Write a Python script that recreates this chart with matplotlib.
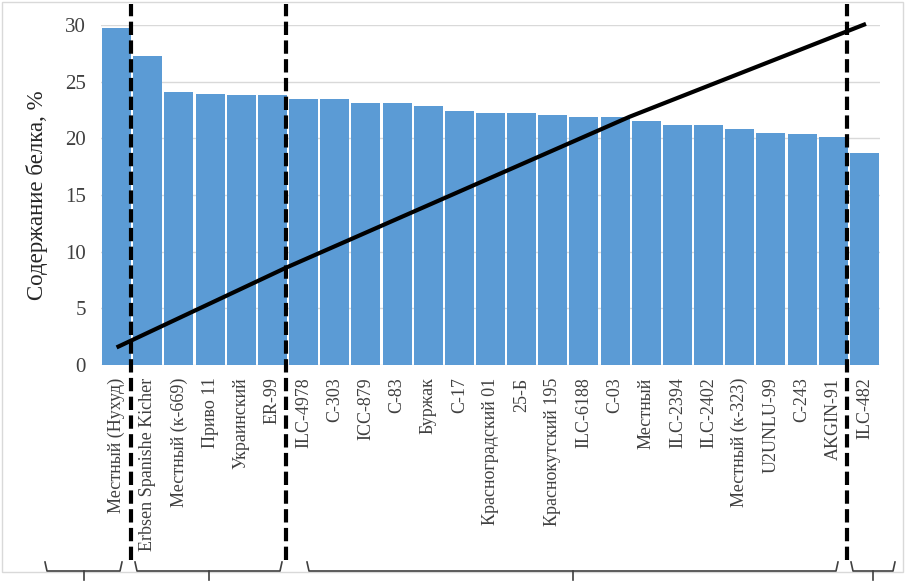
import matplotlib
matplotlib.use("Agg")
import matplotlib.pyplot as plt
from matplotlib.patches import Rectangle
from matplotlib.lines import Line2D

categories = ["Местный (Нухуд)", "Erbsen Spanishe Kicher", "Местный (к-669)", "Приво 11",
              "Украинский", "ER-99", "ILC-4978", "С-303", "ICC-879", "С-83", "Буржак",
              "С-17", "Красноградский 01", "25-Б", "Краснокутский 195", "ILC-6188",
              "С-03", "Местный", "ILC-2394", "ILC-2402", "Местный (к-323)", "U2UNLU-99",
              "С-243", "AKGIN-91", "ILC-482"]
protein = [29.7, 27.3, 24.1, 23.95, 23.85, 23.85, 23.45, 23.45, 23.15, 23.15, 22.85,
           22.45, 22.2, 22.2, 22.05, 21.9, 21.9, 21.5, 21.2, 21.2, 20.8, 20.5,
           20.4, 20.1, 18.75]
trend_x = [0, 5.45, 16.46, 24.05]
trend_y = [1.55, 8.6, 21.9, 30.1]
group_bounds = [0.45, 5.45, 23.43]
y_ticks = [0, 5, 10, 15, 20, 25, 30]

W, H = 907, 586
fig = plt.figure(figsize=(W / 100, H / 100), dpi=100)
plt.rcParams['font.family'] = ['Liberation Serif', 'DejaVu Serif']

L, R, T, B = 101, 880, 25, 365
ax = fig.add_axes([L / W, 1 - B / H, (R - L) / W, (B - T) / H])

x = list(range(len(categories)))
ax.bar(x, protein, width=0.93, color="#5B9BD5", zorder=2)
ax.plot(trend_x, trend_y, color="black", lw=3, solid_capstyle="butt",
        solid_joinstyle="round", zorder=4, clip_on=False)

ax.set_xlim(-0.5, len(categories) - 0.5)
ax.set_ylim(0, 30)
ax.set_yticks(y_ticks)
ax.grid(axis="y", color="#d9d9d9", lw=1, zorder=0)
for s in ax.spines.values():
    s.set_visible(False)
ax.tick_params(axis="both", length=0, colors="#404040")
ax.tick_params(axis="y", pad=11, labelsize=15)
ax.set_xticks(x)
ax.set_xticklabels(categories, rotation=90, fontsize=13, va="top", ha="center")
ax.tick_params(axis="x", pad=9)
ax.set_ylabel("Содержание белка, %", fontsize=16.5, color="#262626")
ax.yaxis.set_label_coords(-0.068, 0.5)

# dashed group separators (from near top of figure to above the braces)
top_frac = (B - 4) / (B - T)
bot_frac = (B - 560) / (B - T)
for gb in group_bounds:
    ln = Line2D([gb, gb], [bot_frac, top_frac], transform=ax.get_xaxis_transform(),
                color="black", lw=3, dashes=(3.2, 1.3), clip_on=False, zorder=5)
    ax.add_line(ln)

# figure frame
fig.patches.append(Rectangle((2 / W, 1 - 572 / H), (903 - 2) / W, (572 - 2) / H,
                             transform=fig.transFigure, fill=False, ec="#d9d9d9", lw=1))

# braces under the groups (pixel layout)
braces = [(45, 122), (135, 282), (307, 838), (851, 895)]
def fx(px):
    return px / W
def fy(py):
    return 1 - py / H
for a, b in braces:
    c = (a + b) / 2
    yb = 571
    fig.add_artist(Line2D([fx(a), fx(a + 2), fx(b - 2), fx(b)],
                          [fy(562), fy(yb), fy(yb), fy(562)], color="#404040", lw=1.2))
    fig.add_artist(Line2D([fx(c), fx(c)], [fy(yb), fy(580)], color="#404040", lw=1.2))

fig.savefig("out.png", dpi=100)
